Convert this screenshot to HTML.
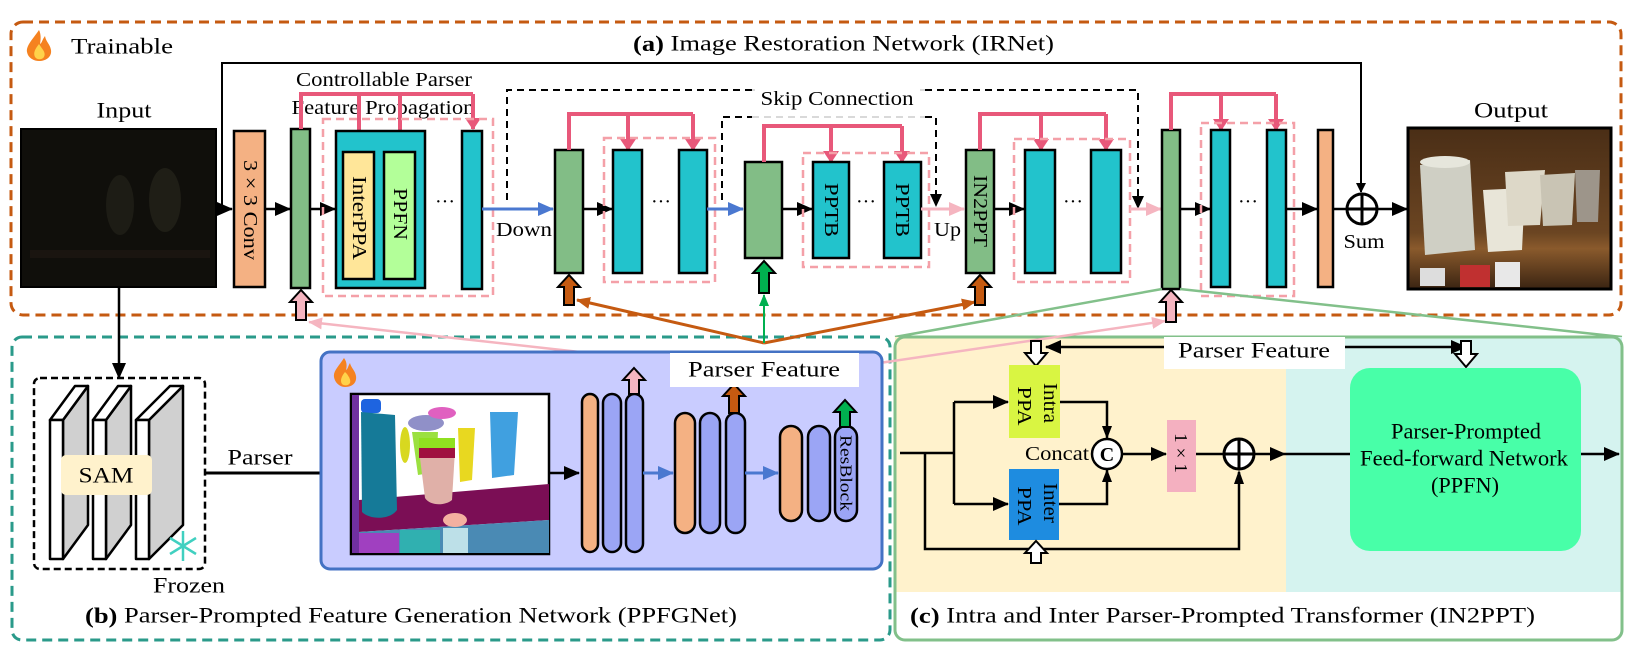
<!DOCTYPE html>
<html><head><meta charset="utf-8"><style>
html,body{margin:0;padding:0;background:#fff;}
svg{display:block;}
text{font-family:"Liberation Serif",serif;fill:#000;}
</style></head><body>
<svg width="1644" height="661" viewBox="0 0 1644 661" xmlns="http://www.w3.org/2000/svg">
<defs>
<marker id="ab" markerWidth="10" markerHeight="10" refX="9" refY="5" orient="auto" markerUnits="userSpaceOnUse"><path d="M0,0 L10,5 L0,10 Z" fill="#000"/></marker>
<marker id="abig" markerWidth="16" markerHeight="14" refX="15" refY="7" orient="auto" markerUnits="userSpaceOnUse"><path d="M0,0 L16,7 L0,14 Z" fill="#000"/></marker>
<marker id="ablue" markerWidth="16" markerHeight="14" refX="15" refY="7" orient="auto" markerUnits="userSpaceOnUse"><path d="M0,0 L16,7 L0,14 Z" fill="#4a78d0"/></marker>
<marker id="apink" markerWidth="16" markerHeight="14" refX="15" refY="7" orient="auto" markerUnits="userSpaceOnUse"><path d="M0,0 L16,7 L0,14 Z" fill="#f5b5c0"/></marker>
<marker id="ared" markerWidth="12" markerHeight="16" refX="11" refY="8" orient="auto" markerUnits="userSpaceOnUse"><path d="M0,0 L12,8 L0,16 Z" fill="#e8587a"/></marker>
<marker id="abr" markerWidth="14" markerHeight="12" refX="13" refY="6" orient="auto" markerUnits="userSpaceOnUse"><path d="M0,0 L14,6 L0,12 Z" fill="#c55a11"/></marker>
<marker id="agr" markerWidth="12" markerHeight="10" refX="11" refY="5" orient="auto" markerUnits="userSpaceOnUse"><path d="M0,0 L12,5 L0,10 Z" fill="#00b050"/></marker>
<marker id="apk2" markerWidth="14" markerHeight="12" refX="13" refY="6" orient="auto" markerUnits="userSpaceOnUse"><path d="M0,0 L14,6 L0,12 Z" fill="#f5b5c0"/></marker>
<linearGradient id="outg" x1="0" y1="0" x2="0" y2="1"><stop offset="0" stop-color="#4a2e16"/><stop offset="0.65" stop-color="#6b4522"/><stop offset="0.75" stop-color="#8a5a2c"/><stop offset="1" stop-color="#3a2412"/></linearGradient>
</defs>

<!-- (a) orange box -->
<rect x="11" y="22" width="1610" height="293" rx="12" fill="none" stroke="#c55a11" stroke-width="3" stroke-dasharray="10 6"/>
<!-- flame -->
<path d="M39,30 C32,40 26,46 27,52 C28,58 34,61 39,61 C46,61 52,57 51,50 C50,44 46,42 45,36 C42,40 42,43 40,44 C41,39 41,34 39,30 Z" fill="#f58220"/>
<path d="M39,44 C35,49 33,53 35,57 C37,60 42,60 44,57 C46,53 43,50 41,47 Z" fill="#ffd24a"/>
<text x="71" y="46" font-size="22" dominant-baseline="central" textLength="102" lengthAdjust="spacingAndGlyphs">Trainable</text>
<text x="633" y="43" font-size="22" dominant-baseline="central" textLength="421" lengthAdjust="spacingAndGlyphs"><tspan font-weight="bold">(a)</tspan> Image Restoration Network (IRNet)</text>

<!-- global skip -->
<polyline points="222,209 222,63 1361,63 1361,192" fill="none" stroke="#000" stroke-width="2" marker-end="url(#ab)"/>

<!-- Input -->
<text x="124" y="110" font-size="22" text-anchor="middle" dominant-baseline="central" textLength="55" lengthAdjust="spacingAndGlyphs">Input</text>
<rect x="21" y="129" width="195" height="158" fill="#100f0b" stroke="#000" stroke-width="2"/>
<ellipse cx="120" cy="205" rx="14" ry="30" fill="#1d1c15"/>
<ellipse cx="165" cy="200" rx="16" ry="32" fill="#1f1e16"/>
<rect x="30" y="250" width="180" height="8" fill="#1a1510"/>
<line x1="216" y1="209" x2="232" y2="209" stroke="#000" stroke-width="2.5" marker-end="url(#abig)"/>

<!-- conv -->
<rect x="234" y="131" width="31" height="156" fill="#f4b183" stroke="#000" stroke-width="2.5"/>
<text transform="translate(250,210) rotate(90)" font-size="20" text-anchor="middle" dominant-baseline="central" textLength="100" lengthAdjust="spacingAndGlyphs">3 × 3 Conv</text>
<line x1="265" y1="209" x2="290" y2="209" stroke="#000" stroke-width="2.5" marker-end="url(#abig)"/>

<!-- green1 -->
<rect x="291" y="129" width="19" height="159" fill="#82bd86" stroke="#000" stroke-width="2.5"/>
<text x="384" y="80" font-size="20" text-anchor="middle" dominant-baseline="central" textLength="176" lengthAdjust="spacingAndGlyphs">Controllable Parser</text>
<text x="383" y="108" font-size="20" text-anchor="middle" dominant-baseline="central" textLength="183" lengthAdjust="spacingAndGlyphs">Feature Propagation</text>
<polyline points="301,129 301,94 473,94" fill="none" stroke="#e8587a" stroke-width="4"/>
<line x1="359" y1="94" x2="359" y2="150" stroke="#e8587a" stroke-width="4" marker-end="url(#ared)"/>
<line x1="400" y1="94" x2="400" y2="150" stroke="#e8587a" stroke-width="4" marker-end="url(#ared)"/>
<line x1="473" y1="94" x2="473" y2="129" stroke="#e8587a" stroke-width="4" marker-end="url(#ared)"/>
<line x1="310" y1="209" x2="335" y2="209" stroke="#000" stroke-width="2.5" marker-end="url(#abig)"/>
<rect x="323" y="119" width="170" height="177" fill="none" stroke="#f4a0a8" stroke-width="2.5" stroke-dasharray="8 5"/>
<rect x="336" y="131" width="89" height="157" fill="#22c3cc" stroke="#000" stroke-width="2.5"/>
<rect x="343" y="152" width="31" height="127" fill="#ffe699" stroke="#000" stroke-width="2.5"/>
<rect x="384" y="152" width="31" height="127" fill="#b3ff99" stroke="#000" stroke-width="2.5"/>
<text transform="translate(359,218) rotate(90)" font-size="20" text-anchor="middle" dominant-baseline="central" textLength="84" lengthAdjust="spacingAndGlyphs">InterPPA</text>
<text transform="translate(400,214) rotate(90)" font-size="20" text-anchor="middle" dominant-baseline="central" textLength="52" lengthAdjust="spacingAndGlyphs">PPFN</text>
<text x="445" y="208" font-size="20" text-anchor="middle">···</text>
<rect x="462" y="131" width="20" height="158" fill="#22c3cc" stroke="#000" stroke-width="2.5"/>

<!-- Down -->
<line x1="482" y1="209" x2="553" y2="209" stroke="#4a78d0" stroke-width="3" marker-end="url(#ablue)"/>
<text x="496" y="230" font-size="20" dominant-baseline="central" textLength="56" lengthAdjust="spacingAndGlyphs">Down</text>

<!-- outer skip -->
<polyline points="507,200 507,90 752,90" fill="none" stroke="#000" stroke-width="2" stroke-dasharray="7 5"/>
<line x1="752" y1="90" x2="925" y2="90" stroke="#d9d9d9" stroke-width="2" stroke-dasharray="7 5"/>
<polyline points="925,90 1138,90 1138,200" fill="none" stroke="#000" stroke-width="2" stroke-dasharray="7 5"/>
<path d="M1132,196 L1144,196 L1138,209 Z" fill="#000"/>
<!-- inner skip -->
<polyline points="722,200 722,117 752,117" fill="none" stroke="#000" stroke-width="2" stroke-dasharray="7 5"/>
<line x1="752" y1="117" x2="925" y2="117" stroke="#d9d9d9" stroke-width="2" stroke-dasharray="7 5"/>
<polyline points="925,117 936,117 936,198" fill="none" stroke="#000" stroke-width="2" stroke-dasharray="7 5"/>
<path d="M930,194 L942,194 L936,207 Z" fill="#000"/>
<rect x="755" y="86" width="165" height="26" fill="#fff"/>
<text x="837" y="99" font-size="20" text-anchor="middle" dominant-baseline="central" textLength="153" lengthAdjust="spacingAndGlyphs">Skip Connection</text>

<!-- stage 2 -->
<rect x="555" y="150" width="28" height="123" fill="#82bd86" stroke="#000" stroke-width="2.5"/>
<polyline points="569,150 569,114 693,114" fill="none" stroke="#e8587a" stroke-width="4"/>
<line x1="628" y1="114" x2="628" y2="150" stroke="#e8587a" stroke-width="4" marker-end="url(#ared)"/>
<line x1="693" y1="114" x2="693" y2="150" stroke="#e8587a" stroke-width="4" marker-end="url(#ared)"/>
<line x1="583" y1="209" x2="612" y2="209" stroke="#000" stroke-width="2.5" marker-end="url(#abig)"/>
<rect x="604" y="138" width="111" height="144" fill="none" stroke="#f4a0a8" stroke-width="2.5" stroke-dasharray="8 5"/>
<rect x="613" y="150" width="29" height="123" fill="#22c3cc" stroke="#000" stroke-width="2.5"/>
<rect x="679" y="150" width="28" height="123" fill="#22c3cc" stroke="#000" stroke-width="2.5"/>
<text x="661" y="208" font-size="20" text-anchor="middle">···</text>
<line x1="707" y1="209" x2="743" y2="209" stroke="#4a78d0" stroke-width="3" marker-end="url(#ablue)"/>

<!-- stage 3 -->
<rect x="745" y="162" width="37" height="96" fill="#82bd86" stroke="#000" stroke-width="2.5"/>
<polyline points="764,162 764,126 902,126" fill="none" stroke="#e8587a" stroke-width="4"/>
<line x1="831" y1="126" x2="831" y2="162" stroke="#e8587a" stroke-width="4" marker-end="url(#ared)"/>
<line x1="902" y1="126" x2="902" y2="162" stroke="#e8587a" stroke-width="4" marker-end="url(#ared)"/>
<line x1="782" y1="209" x2="812" y2="209" stroke="#000" stroke-width="2.5" marker-end="url(#abig)"/>
<rect x="803" y="153" width="126" height="114" fill="none" stroke="#f4a0a8" stroke-width="2.5" stroke-dasharray="8 5"/>
<rect x="813" y="162" width="36" height="96" fill="#22c3cc" stroke="#000" stroke-width="2.5"/>
<rect x="884" y="162" width="37" height="96" fill="#22c3cc" stroke="#000" stroke-width="2.5"/>
<text transform="translate(831,210) rotate(90)" font-size="20" text-anchor="middle" dominant-baseline="central" textLength="54" lengthAdjust="spacingAndGlyphs">PPTB</text>
<text transform="translate(902,210) rotate(90)" font-size="20" text-anchor="middle" dominant-baseline="central" textLength="54" lengthAdjust="spacingAndGlyphs">PPTB</text>
<text x="866" y="208" font-size="20" text-anchor="middle">···</text>
<line x1="921" y1="209" x2="964" y2="209" stroke="#f5b5c0" stroke-width="3" marker-end="url(#apink)"/>
<text x="934" y="230" font-size="20" dominant-baseline="central" textLength="27" lengthAdjust="spacingAndGlyphs">Up</text>

<!-- stage 4 -->
<rect x="966" y="150" width="28" height="123" fill="#82bd86" stroke="#000" stroke-width="2.5"/>
<text transform="translate(980,211) rotate(90)" font-size="20" text-anchor="middle" dominant-baseline="central" textLength="72" lengthAdjust="spacingAndGlyphs">IN2PPT</text>
<polyline points="980,150 980,114 1106,114" fill="none" stroke="#e8587a" stroke-width="4"/>
<line x1="1041" y1="114" x2="1041" y2="150" stroke="#e8587a" stroke-width="4" marker-end="url(#ared)"/>
<line x1="1106" y1="114" x2="1106" y2="150" stroke="#e8587a" stroke-width="4" marker-end="url(#ared)"/>
<line x1="994" y1="209" x2="1024" y2="209" stroke="#000" stroke-width="2.5" marker-end="url(#abig)"/>
<rect x="1014" y="139" width="116" height="143" fill="none" stroke="#f4a0a8" stroke-width="2.5" stroke-dasharray="8 5"/>
<rect x="1025" y="150" width="30" height="123" fill="#22c3cc" stroke="#000" stroke-width="2.5"/>
<rect x="1091" y="150" width="30" height="123" fill="#22c3cc" stroke="#000" stroke-width="2.5"/>
<text x="1073" y="208" font-size="20" text-anchor="middle">···</text>
<line x1="1130" y1="209" x2="1161" y2="209" stroke="#f5b5c0" stroke-width="3" marker-end="url(#apink)"/>

<!-- stage 5 -->
<rect x="1162" y="130" width="18" height="159" fill="#82bd86" stroke="#000" stroke-width="2.5"/>
<polyline points="1171,130 1171,94 1276,94" fill="none" stroke="#e8587a" stroke-width="4"/>
<line x1="1221" y1="94" x2="1221" y2="130" stroke="#e8587a" stroke-width="4" marker-end="url(#ared)"/>
<line x1="1276" y1="94" x2="1276" y2="130" stroke="#e8587a" stroke-width="4" marker-end="url(#ared)"/>
<line x1="1180" y1="209" x2="1210" y2="209" stroke="#000" stroke-width="2.5" marker-end="url(#abig)"/>
<rect x="1201" y="123" width="93" height="173" fill="none" stroke="#f4a0a8" stroke-width="2.5" stroke-dasharray="8 5"/>
<rect x="1211" y="130" width="19" height="157" fill="#22c3cc" stroke="#000" stroke-width="2.5"/>
<rect x="1267" y="130" width="19" height="157" fill="#22c3cc" stroke="#000" stroke-width="2.5"/>
<text x="1248" y="208" font-size="20" text-anchor="middle">···</text>
<line x1="1286" y1="209" x2="1317" y2="209" stroke="#000" stroke-width="2.5" marker-end="url(#abig)"/>
<rect x="1318" y="130" width="15" height="157" fill="#f4b183" stroke="#000" stroke-width="2.5"/>
<line x1="1333" y1="209" x2="1347" y2="209" stroke="#000" stroke-width="2.5"/>
<circle cx="1362" cy="209" r="15" fill="#fff" stroke="#000" stroke-width="3"/>
<line x1="1347" y1="209" x2="1377" y2="209" stroke="#000" stroke-width="3"/>
<line x1="1362" y1="194" x2="1362" y2="224" stroke="#000" stroke-width="3"/>
<line x1="1377" y1="209" x2="1407" y2="209" stroke="#000" stroke-width="2.5" marker-end="url(#abig)"/>
<text x="1364" y="242" font-size="20" text-anchor="middle" dominant-baseline="central" textLength="41" lengthAdjust="spacingAndGlyphs">Sum</text>

<!-- Output -->
<text x="1511" y="110" font-size="22" text-anchor="middle" dominant-baseline="central" textLength="74" lengthAdjust="spacingAndGlyphs">Output</text>
<rect x="1408" y="128" width="203" height="161" fill="url(#outg)" stroke="#000" stroke-width="3"/>
<path d="M1420,165 L1470,160 L1475,250 L1425,255 Z" fill="#cfcfc4"/>
<ellipse cx="1445" cy="162" rx="25" ry="6" fill="#e6e6dc"/>
<path d="M1483,190 L1525,188 L1522,250 L1488,252 Z" fill="#e8e5d8"/>
<path d="M1505,172 L1545,170 L1540,225 L1508,226 Z" fill="#ddd8c8"/>
<path d="M1540,175 L1575,173 L1572,225 L1543,226 Z" fill="#c9c4b4"/>
<path d="M1575,170 L1600,170 L1598,222 L1577,222 Z" fill="#9d958a"/>
<rect x="1420" y="268" width="25" height="18" fill="#ddd"/>
<rect x="1460" y="265" width="30" height="22" fill="#c03030"/>
<rect x="1495" y="262" width="25" height="25" fill="#e8e8e8"/>

<!-- fan lines to (c) -->
<line x1="1162" y1="289" x2="895" y2="337" stroke="#82c08a" stroke-width="2.5"/>
<line x1="1180" y1="289" x2="1622" y2="337" stroke="#82c08a" stroke-width="2.5"/>

<!-- (b) teal dashed box -->
<rect x="12" y="337" width="878" height="303" rx="10" fill="none" stroke="#2a9a8a" stroke-width="3" stroke-dasharray="10 6"/>

<!-- (c) box -->
<rect x="895" y="337" width="391" height="255" fill="#fff2cc"/>
<rect x="1286" y="337" width="336" height="255" fill="#d5f3ef"/>
<rect x="895" y="337" width="727" height="303" rx="10" fill="none" stroke="#82c08a" stroke-width="3"/>

<!-- bottom connectors -->
<line x1="764" y1="343" x2="577" y2="300" stroke="#c55a11" stroke-width="3" marker-end="url(#abr)"/>
<line x1="764" y1="343" x2="975" y2="302" stroke="#c55a11" stroke-width="3" marker-end="url(#abr)"/>
<line x1="764" y1="343" x2="764" y2="295" stroke="#00b050" stroke-width="2" marker-end="url(#agr)"/>
<line x1="670" y1="362" x2="309" y2="322" stroke="#f5b5c0" stroke-width="2.5" marker-end="url(#apk2)"/>
<line x1="859" y1="366" x2="1165" y2="321" stroke="#f5b5c0" stroke-width="2.5" marker-end="url(#apk2)"/>

<!-- hollow arrows under blocks -->
<path d="M296,320 L296,302 L290,302 L301,290 L312,302 L306,302 L306,320 Z" fill="#f5b5c0" stroke="#000" stroke-width="2"/>
<path d="M564,305 L564,287 L558,287 L569,275 L580,287 L574,287 L574,305 Z" fill="#c55a11" stroke="#000" stroke-width="2"/>
<path d="M759,293 L759,273 L753,273 L764,261 L775,273 L769,273 L769,293 Z" fill="#00b050" stroke="#000" stroke-width="2"/>
<path d="M975,305 L975,287 L969,287 L980,275 L991,287 L985,287 L985,305 Z" fill="#c55a11" stroke="#000" stroke-width="2"/>
<path d="M1166,322 L1166,302 L1160,302 L1171,290 L1182,302 L1176,302 L1176,322 Z" fill="#f5b5c0" stroke="#000" stroke-width="2"/>

<!-- input to SAM -->
<line x1="119" y1="287" x2="119" y2="378" stroke="#000" stroke-width="2.5" marker-end="url(#abig)"/>
<rect x="34" y="378" width="171" height="191" rx="6" fill="none" stroke="#000" stroke-width="2.5" stroke-dasharray="7 4"/>
<!-- slabs -->
<g stroke="#000" stroke-width="2.5" stroke-linejoin="round">
<path d="M63,420 L88,386 L88,525 L63,559 Z" fill="#d0d0d0"/>
<path d="M50,420 L75,386 L88,386 L63,420 Z" fill="#fff"/>
<rect x="50" y="420" width="13" height="139" fill="#fff"/>
<path d="M106,420 L131,386 L131,525 L106,559 Z" fill="#d0d0d0"/>
<path d="M93,420 L118,386 L131,386 L106,420 Z" fill="#fff"/>
<rect x="93" y="420" width="13" height="139" fill="#fff"/>
<path d="M149,420 L183,386 L183,525 L149,559 Z" fill="#d0d0d0"/>
<path d="M136,420 L170,386 L183,386 L149,420 Z" fill="#fff"/>
<rect x="136" y="420" width="13" height="139" fill="#fff"/>
</g>
<rect x="61" y="455" width="91" height="40" rx="5" fill="#fff2cc"/>
<text x="106" y="475" font-size="22" text-anchor="middle" dominant-baseline="central" textLength="55" lengthAdjust="spacingAndGlyphs">SAM</text>
<g stroke="#40d0c0" stroke-width="2.5" fill="none">
<line x1="183" y1="531" x2="183" y2="561"/><line x1="170" y1="538" x2="196" y2="554"/><line x1="170" y1="554" x2="196" y2="538"/>
</g>
<text x="153" y="585" font-size="22" dominant-baseline="central" textLength="72" lengthAdjust="spacingAndGlyphs">Frozen</text>
<line x1="205" y1="473" x2="349" y2="473" stroke="#000" stroke-width="3" marker-end="url(#abig)"/>
<text x="260" y="457" font-size="22" text-anchor="middle" dominant-baseline="central" textLength="65" lengthAdjust="spacingAndGlyphs">Parser</text>

<!-- PPFGNet blue box -->
<rect x="321" y="352" width="561" height="217" rx="9" fill="#c9ccff" stroke="#4472c4" stroke-width="3"/>
<path d="M344,358 C339,366 333,371 334,377 C335,383 340,387 345,387 C352,387 357,383 356,376 C355,370 351,368 350,363 C348,366 348,369 346,370 C347,366 347,362 344,358 Z" fill="#f58220"/>
<path d="M345,372 C341,377 340,381 342,384 C344,386 348,386 350,383 C351,380 349,377 347,374 Z" fill="#ffd24a"/>
<!-- seg image -->
<rect x="351" y="394" width="198" height="160" fill="#fff" stroke="#000" stroke-width="2.5"/>
<rect x="352" y="395" width="7" height="158" fill="#7030a0"/>
<path d="M359,500 L549,484 L549,520 L359,532 Z" fill="#7b0e55"/>
<path d="M359,532 L549,520 L549,553 L359,553 Z" fill="#4a8ab4"/>
<rect x="359" y="533" width="40" height="20" fill="#a040c0"/>
<rect x="400" y="530" width="40" height="23" fill="#30b0b0"/>
<rect x="443" y="528" width="25" height="25" fill="#bde0e8"/>
<ellipse cx="455" cy="520" rx="12" ry="7" fill="#f4b0a0"/>
<rect x="361" y="399" width="20" height="14" rx="4" fill="#1e64e0"/>
<path d="M361,412 L395,415 L397,510 C390,520 370,520 362,512 Z" fill="#157a98"/>
<ellipse cx="405" cy="445" rx="5" ry="18" fill="#d8d820"/>
<path d="M412,432 L438,432 L436,472 L418,475 Z" fill="#9be040"/>
<ellipse cx="426" cy="423" rx="18" ry="8" fill="#9090c8"/>
<ellipse cx="442" cy="413" rx="14" ry="6" fill="#e060c0"/>
<path d="M419,450 L455,450 L452,500 C445,506 430,506 425,498 Z" fill="#e0b0a8"/>
<rect x="419" y="438" width="36" height="10" fill="#90e020"/>
<rect x="419" y="448" width="36" height="10" fill="#a01040"/>
<path d="M458,428 L475,428 L472,480 L460,482 Z" fill="#e8d820"/>
<path d="M490,412 L518,412 L514,475 L492,478 Z" fill="#40a0e0"/>
<line x1="549" y1="473" x2="579" y2="473" stroke="#000" stroke-width="2.5" marker-end="url(#abig)"/>
<!-- capsules -->
<g stroke="#000" stroke-width="2.5">
<rect x="582" y="394" width="16" height="158" rx="8" fill="#f4b183"/>
<rect x="603" y="394" width="18" height="158" rx="9" fill="#9ba5f5"/>
<rect x="626" y="394" width="17" height="158" rx="8.5" fill="#9ba5f5"/>
<rect x="675" y="413" width="20" height="120" rx="10" fill="#f4b183"/>
<rect x="700" y="413" width="20" height="120" rx="10" fill="#9ba5f5"/>
<rect x="726" y="413" width="19" height="120" rx="9.5" fill="#9ba5f5"/>
<rect x="780" y="426" width="22" height="95" rx="11" fill="#f4b183"/>
<rect x="808" y="426" width="22" height="95" rx="11" fill="#9ba5f5"/>
<rect x="835" y="426" width="22" height="95" rx="11" fill="#9ba5f5"/>
</g>
<text transform="translate(846,473) rotate(90)" font-size="17" text-anchor="middle" dominant-baseline="central" textLength="76" lengthAdjust="spacingAndGlyphs">ResBlock</text>
<line x1="643" y1="473" x2="673" y2="473" stroke="#4a78d0" stroke-width="3" marker-end="url(#ablue)"/>
<line x1="745" y1="473" x2="778" y2="473" stroke="#4a78d0" stroke-width="3" marker-end="url(#ablue)"/>
<path d="M629,394 L629,380 L623,380 L634,368 L645,380 L639,380 L639,394 Z" fill="#f5b5c0" stroke="#000" stroke-width="2"/>
<path d="M729,413 L729,396 L723,396 L734,384 L745,396 L739,396 L739,413 Z" fill="#c55a11" stroke="#000" stroke-width="2"/>
<path d="M840,427 L840,412 L834,412 L845,400 L856,412 L850,412 L850,427 Z" fill="#00b050" stroke="#000" stroke-width="2"/>
<rect x="670" y="353" width="189" height="34" fill="#fff"/>
<text x="764" y="369" font-size="22" text-anchor="middle" dominant-baseline="central" textLength="152" lengthAdjust="spacingAndGlyphs">Parser Feature</text>

<text x="85" y="615" font-size="22" dominant-baseline="central" textLength="652" lengthAdjust="spacingAndGlyphs"><tspan font-weight="bold">(b)</tspan> Parser-Prompted Feature Generation Network (PPFGNet)</text>

<!-- (c) internals -->
<rect x="1164" y="337" width="181" height="32" fill="#fff"/>
<text x="1254" y="350" font-size="22" text-anchor="middle" dominant-baseline="central" textLength="152" lengthAdjust="spacingAndGlyphs">Parser Feature</text>
<line x1="1164" y1="347" x2="1046" y2="347" stroke="#000" stroke-width="2.5" marker-end="url(#abig)"/>
<line x1="1345" y1="347" x2="1466" y2="347" stroke="#000" stroke-width="2.5" marker-end="url(#abig)"/>
<path d="M1031,341 L1031,353 L1025,353 L1036,366 L1047,353 L1041,353 L1041,341 Z" fill="#fff" stroke="#000" stroke-width="2"/>
<path d="M1461,341 L1461,354 L1455,354 L1466,367 L1477,354 L1471,354 L1471,341 Z" fill="#fff" stroke="#000" stroke-width="2"/>

<rect x="1009" y="365" width="51" height="73" fill="#d9f542"/>
<rect x="1009" y="469" width="50" height="71" fill="#1e8ce0"/>
<text transform="translate(1050,403) rotate(90)" font-size="20" text-anchor="middle" dominant-baseline="central" textLength="40" lengthAdjust="spacingAndGlyphs">Intra</text>
<text transform="translate(1024,406) rotate(90)" font-size="20" text-anchor="middle" dominant-baseline="central" textLength="39" lengthAdjust="spacingAndGlyphs">PPA</text>
<text transform="translate(1050,503) rotate(90)" font-size="20" text-anchor="middle" dominant-baseline="central" textLength="40" lengthAdjust="spacingAndGlyphs">Inter</text>
<text transform="translate(1024,506) rotate(90)" font-size="20" text-anchor="middle" dominant-baseline="central" textLength="39" lengthAdjust="spacingAndGlyphs">PPA</text>

<g fill="none" stroke="#000" stroke-width="2.5">
<line x1="900" y1="453" x2="954" y2="453"/>
<polyline points="954,402 954,504"/>
<polyline points="925,453 925,549 1239,549 1239,472"/>
<polyline points="1060,402 1107,402 1107,438"/>
<polyline points="1059,504 1107,504 1107,470"/>
</g>
<line x1="954" y1="402" x2="1008" y2="402" stroke="#000" stroke-width="2.5" marker-end="url(#abig)"/>
<line x1="954" y1="504" x2="1008" y2="504" stroke="#000" stroke-width="2.5" marker-end="url(#abig)"/>
<path d="M1102,426 L1112,426 L1107,439 Z" fill="#000"/>
<path d="M1102,482 L1112,482 L1107,469 Z" fill="#000"/>
<path d="M1234,484 L1244,484 L1239,470 Z" fill="#000"/>
<path d="M1031,563 L1031,553 L1025,553 L1036,541 L1047,553 L1041,553 L1041,563 Z" fill="#fff" stroke="#000" stroke-width="2"/>
<circle cx="1107" cy="454" r="15" fill="#fff" stroke="#000" stroke-width="2.5"/>
<text x="1107" y="455" font-size="20" font-weight="bold" text-anchor="middle" dominant-baseline="central">C</text>
<text x="1089" y="454" font-size="20" text-anchor="end" dominant-baseline="central" textLength="64" lengthAdjust="spacingAndGlyphs">Concat</text>
<line x1="1122" y1="454" x2="1166" y2="454" stroke="#000" stroke-width="2.5" marker-end="url(#abig)"/>
<rect x="1167" y="420" width="29" height="72" fill="#f4b0c0"/>
<text transform="translate(1181,453) rotate(90)" font-size="18" text-anchor="middle" dominant-baseline="central" textLength="40" lengthAdjust="spacingAndGlyphs">1 × 1</text>
<line x1="1196" y1="454" x2="1224" y2="454" stroke="#000" stroke-width="2.5"/>
<circle cx="1239" cy="454" r="15" fill="#fff" stroke="#000" stroke-width="3"/>
<line x1="1224" y1="454" x2="1254" y2="454" stroke="#000" stroke-width="3"/>
<line x1="1239" y1="439" x2="1239" y2="469" stroke="#000" stroke-width="3"/>
<line x1="1254" y1="454" x2="1285" y2="454" stroke="#000" stroke-width="2.5" marker-end="url(#abig)"/>
<line x1="1285" y1="454" x2="1350" y2="454" stroke="#000" stroke-width="2.5"/>
<rect x="1350" y="368" width="231" height="183" rx="20" fill="#48ffa8"/>
<text x="1466" y="431" font-size="22" text-anchor="middle" dominant-baseline="central" textLength="150" lengthAdjust="spacingAndGlyphs">Parser-Prompted</text>
<text x="1464" y="458" font-size="22" text-anchor="middle" dominant-baseline="central" textLength="208" lengthAdjust="spacingAndGlyphs">Feed-forward Network</text>
<text x="1465" y="485" font-size="22" text-anchor="middle" dominant-baseline="central" textLength="68" lengthAdjust="spacingAndGlyphs">(PPFN)</text>
<line x1="1581" y1="454" x2="1619" y2="454" stroke="#000" stroke-width="2.5" marker-end="url(#abig)"/>

<text x="910" y="615" font-size="22" dominant-baseline="central" textLength="625" lengthAdjust="spacingAndGlyphs"><tspan font-weight="bold">(c)</tspan> Intra and Inter Parser-Prompted Transformer (IN2PPT)</text>
</svg>
</body></html>
